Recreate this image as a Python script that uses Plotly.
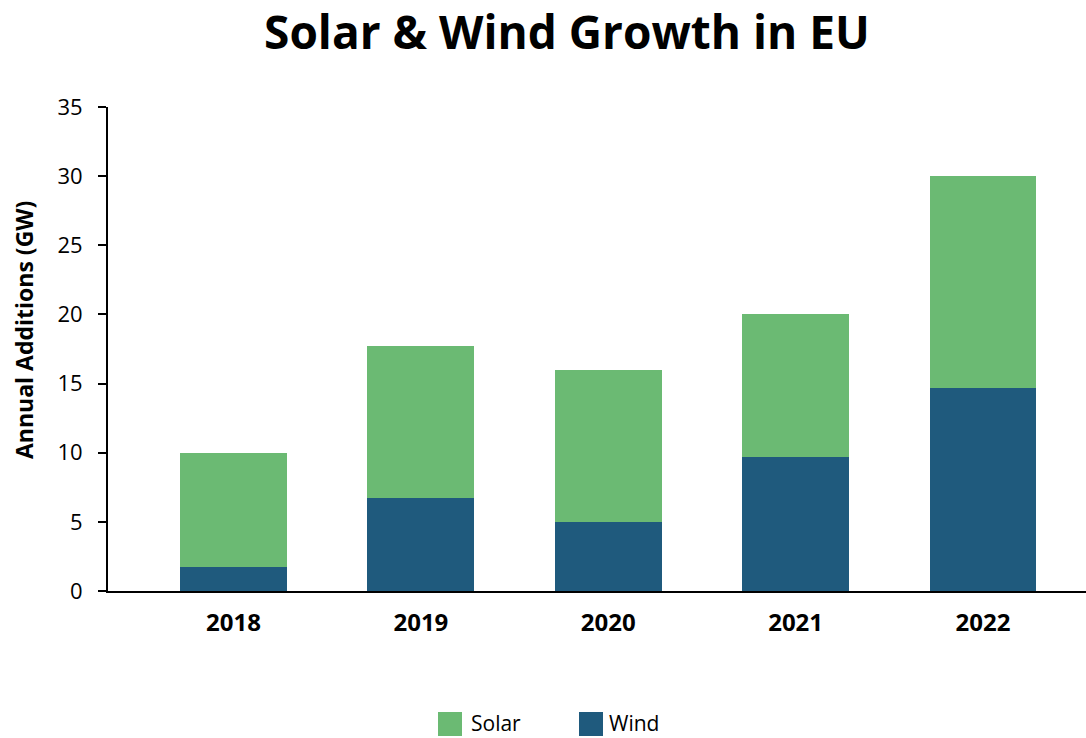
import plotly.graph_objects as go

years = ["2018", "2019", "2020", "2021", "2022"]
wind = [1.7, 6.7, 5.0, 9.7, 14.7]
solar = [8.3, 11.0, 11.0, 10.3, 15.3]
y_ticks = [0, 5, 10, 15, 20, 25, 30, 35]

FONT = "Open Sans"
SOLAR_COLOR = "#6BBA73"
WIND_COLOR = "#1F5A7D"

W, H = 1086, 738
M_L, M_R, M_T, M_B = 108, 0, 107, 147
PLOT_W = W - M_L - M_R
PLOT_H = H - M_T - M_B


def px_to_paper(px, py):
    """Convert page pixel coordinates to paper coordinates."""
    return (px - M_L) / PLOT_W, (H - M_B - py) / PLOT_H


fig = go.Figure()
fig.add_trace(go.Bar(name="Wind", x=years, y=wind,
                     marker=dict(color=WIND_COLOR, line=dict(width=0))))
fig.add_trace(go.Bar(name="Solar", x=years, y=solar,
                     marker=dict(color=SOLAR_COLOR, line=dict(width=0))))

# Legend with large square swatches, drawn beneath the chart
legend_items = [("Solar", SOLAR_COLOR, 450, 470), ("Wind", WIND_COLOR, 591, 608)]
shapes = []
annotations = []
for label, color, sw_cx, text_x in legend_items:
    sx, sy = px_to_paper(sw_cx, 724)
    shapes.append(dict(
        type="rect", xref="paper", yref="paper",
        xsizemode="pixel", ysizemode="pixel",
        xanchor=sx, yanchor=sy,
        x0=-12, x1=12, y0=-12, y1=12,
        fillcolor=color, line=dict(width=0),
    ))
    tx, ty = px_to_paper(text_x, 738)
    annotations.append(dict(
        text=label, xref="paper", yref="paper", x=tx, y=ty,
        xanchor="left", yanchor="bottom", showarrow=False,
        borderpad=0,
        font=dict(size=21, family=FONT, color="black"),
    ))

# Y-axis title
ax, ay = px_to_paper(24, 330)
annotations.append(dict(
    text="<b>Annual Additions (GW)</b>", xref="paper", yref="paper",
    x=ax, y=ay, xanchor="center", yanchor="middle", textangle=-90,
    showarrow=False, font=dict(size=23, family=FONT, color="black"),
))

fig.update_layout(
    width=W,
    height=H,
    barmode="stack",
    bargap=0.43,
    plot_bgcolor="white",
    paper_bgcolor="white",
    margin=dict(l=M_L, r=M_R, t=M_T, b=M_B),
    font=dict(family=FONT, color="black"),
    title=dict(
        text="<b>Solar &amp; Wind Growth in EU</b>",
        x=0.522,
        xanchor="center",
        y=0.956,
        yanchor="middle",
        font=dict(size=46, family=FONT, color="black"),
    ),
    showlegend=False,
    shapes=shapes,
    annotations=annotations,
)

fig.update_xaxes(
    type="category",
    range=[-0.67, 4.55],
    showline=True,
    linecolor="black",
    linewidth=2,
    ticks="",
    ticklabelstandoff=9,
    tickfont=dict(size=24, family=FONT, color="black", weight="bold"),
    showgrid=False,
)

fig.update_yaxes(
    range=[0, 35],
    tickvals=y_ticks,
    showline=True,
    linecolor="black",
    linewidth=2,
    ticks="outside",
    ticklen=8,
    tickwidth=2,
    tickcolor="black",
    ticklabelstandoff=11,
    tickfont=dict(size=22, family=FONT, color="black"),
    showgrid=False,
    zeroline=False,
)

fig.write_html("out.html")
